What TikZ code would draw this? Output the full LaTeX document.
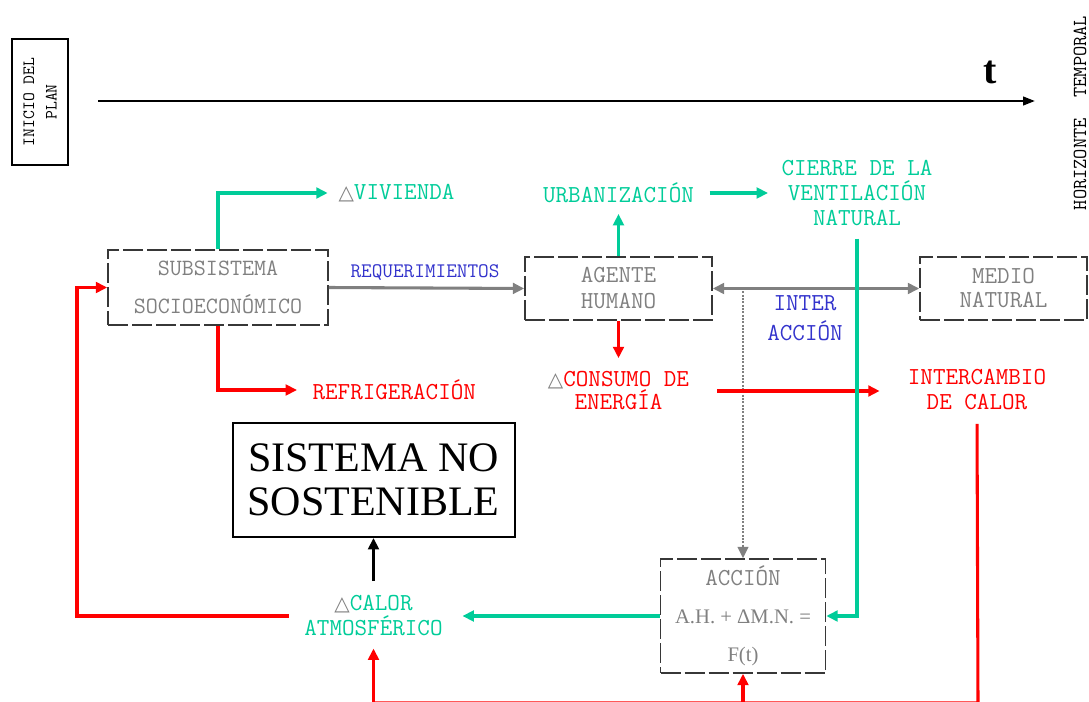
\documentclass[tikz,border=0pt]{standalone}
\usepackage{fontspec}
\usepackage{xcolor}
\usepackage{tikz}
\usetikzlibrary{arrows.meta}
\newfontfamily\serifface{Liberation Serif}
\newfontfamily\symface{DejaVu Sans}
\definecolor{verde}{RGB}{0,204,153}
\definecolor{rojo}{RGB}{255,0,0}
\definecolor{azul}{RGB}{51,51,204}
\definecolor{gris}{RGB}{128,128,128}
\definecolor{borde}{RGB}{55,55,55}
\newcommand{\tridelta}{{\symface\fontsize{15}{15}\selectfont\color{gris}△}}

\begin{document}
\begin{tikzpicture}[x=0.75pt,y=-0.75pt]
	\useasboundingbox (0,0) rectangle (1089,702);
	\begin{scope}[every node/.style = {draw=borde, line width=1.2pt,
		dash pattern=on 15pt off 3pt, text=gris, align=center}]
		\node[minimum width=165pt, minimum height=56.25pt,
			font=\ttfamily\fontsize{17.5}{28}\selectfont] (subsis) at (218,287.5) {SUBSISTEMA\\SOCIOECONÓMICO};
		\node[minimum width=140.25pt, minimum height=47.25pt,
			font=\ttfamily\fontsize{18.3}{19.5}\selectfont] (agente) at (618.5,288.5) {AGENTE\\HUMANO};
		\node[minimum width=125.25pt, minimum height=47.25pt,
			font=\ttfamily\fontsize{18.3}{18}\selectfont] (medio) at (1003.5,288.5) {MEDIO\\NATURAL};
		\node[minimum width=123.75pt, minimum height=85.5pt,
			font=\ttfamily\fontsize{18.3}{28.5}\selectfont] (accion) at (743,616)
			{ACCIÓN\\{\serifface\fontsize{15.5}{15.5}\selectfont A.H. + ΔM.N. =}\\{\serifface\fontsize{15.5}{15.5}\selectfont F(t)}};
	\end{scope}
	\node[draw=black, line width=1.5pt, minimum width=211.5pt, minimum height=85.5pt,
		align=center, font=\serifface\fontsize{31.5}{33}\selectfont] (sistema) at (373.5,480)
		{SISTEMA NO\\SOSTENIBLE};
	\node[draw=black, line width=0.8pt, rotate=90, minimum width=94.5pt, minimum height=42pt,
		align=center, font=\ttfamily\fontsize{12.9}{17}\selectfont] (inicio) at (40,102) {INICIO DEL\\PLAN};
	\node[rotate=90, font=\ttfamily\fontsize{14.9}{14.9}\selectfont] (horiz) at (1080,113) {HORIZONTE\ \ TEMPORAL};
	\node[font=\serifface\bfseries\fontsize{30}{30}\selectfont] (t) at (990,72) {t};
	\begin{scope}[every node/.style = {inner sep=4pt, align=center,
		font=\ttfamily\fontsize{18.3}{18.75}\selectfont}]
		\node[anchor=west, text=verde] (viv) at (333,193) {\tridelta VIVIENDA};
		\node[text=verde] (urb) at (618.5,193) {URBANIZACIÓN};
		\node[text=verde] (cierre) at (857,193) {CIERRE DE LA\\VENTILACIÓN\\NATURAL};
		\node[text=azul, font=\ttfamily\fontsize{15.5}{15.5}\selectfont] (requer) at (425,272) {REQUERIMIENTOS};
		\node[text=azul, font=\ttfamily\fontsize{18.3}{22.5}\selectfont] (inter) at (805,318) {INTER\\ACCIÓN};
		\node[text=rojo, font=\ttfamily\fontsize{18.3}{17.25}\selectfont] (consumo) at (618.5,391) {\tridelta CONSUMO DE\\ENERGÍA};
		\node[text=rojo] (interc) at (977,390) {INTERCAMBIO\\DE CALOR};
		\node[anchor=west, text=rojo] (refrig) at (307,390) {REFRIGERACIÓN};
		\node[text=verde] (calor) at (373.5,616) {\tridelta CALOR\\ATMOSFÉRICO};
	\end{scope}
	\coordinate (t0) at (98,101);
	\coordinate (t1) at (1035,101);
	\coordinate (ia) at (743,288);
	\coordinate (lp) at (77,616);
	\coordinate (b1) at (978,703);
	\coordinate (b2) at (373.5,703);
	\coordinate (b3) at (743,703);
	\begin{scope}[>={Triangle[length=8.5pt,width=8pt]}, line width=2.3pt]
		\draw[->, black, line width=1.7pt, >={Triangle[length=9pt,width=6.5pt]}] (t0) -- (t1);
		\draw[->, verde, shorten >=4pt] (subsis.north) |- (viv.west);
		\draw[->, verde, shorten >=4pt] (agente.north) -- (urb.south);
		\draw[->, verde, shorten <=7.5pt, shorten >=6pt] (urb.east) -- (cierre.west |- urb.east);
		\draw[->, gris] (subsis.east) -- (agente.west);
		\draw[<->, gris] (agente.east) -- (medio.west);
		\draw[->, gris, line width=1.5pt, densely dotted] (ia) -- (accion.north);
		\draw[->, rojo, shorten >=6pt] (agente.south) -- (consumo.north);
		\draw[->, rojo, shorten <=17pt, shorten >=17pt] (consumo.east) -- (consumo.east -| interc.west);
		\draw[->, rojo, shorten >=7.5pt] (subsis.south) |- (refrig.west);
		\draw[->, verde, shorten <=5.5pt] (cierre.south) |- (accion.east);
		\draw[->, verde, shorten >=10.7pt] (accion.west) -- (calor.east);
		\draw[->, black, shorten <=6.8pt] (calor.north) -- (sistema.south);
		\draw[->, rojo, shorten <=7.7pt] (calor.west) -| (lp) |- (subsis.west);
		\draw[rojo, shorten <=6pt] (interc.south) -- (b1) -- (b2);
		\draw[->, rojo, shorten >=5pt] (b2) -- (calor.south);
		\draw[->, rojo] (b3) -- (accion.south);
	\end{scope}
\end{tikzpicture}
\end{document}
